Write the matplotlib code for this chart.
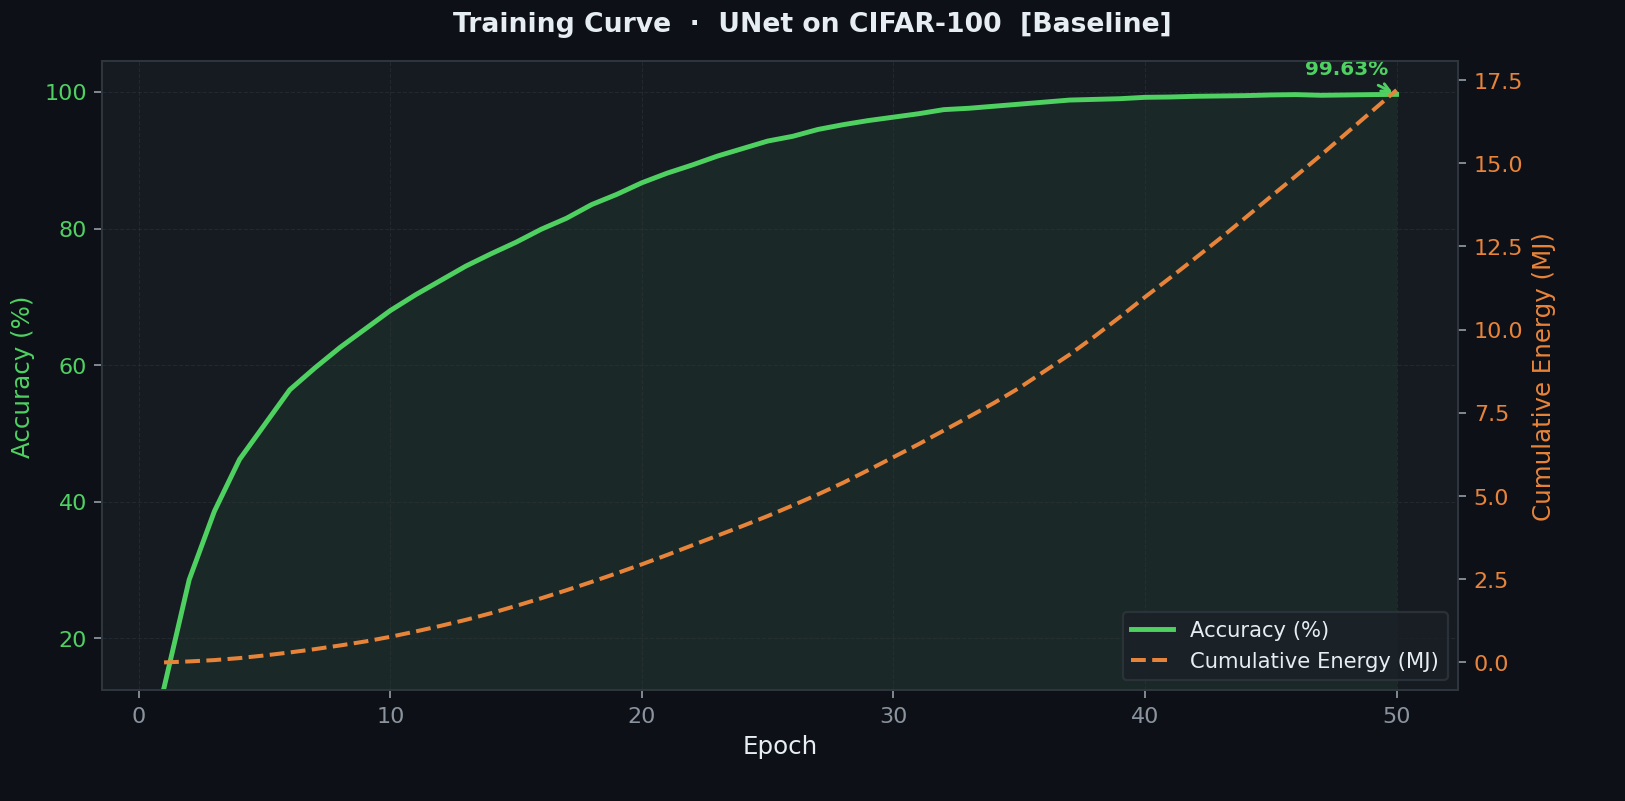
import matplotlib
matplotlib.use("Agg")
import matplotlib.pyplot as plt

epochs = list(range(1, 51))
accuracy = [12.8, 28.6, 38.6, 46.2, 51.3, 56.4, 59.6, 62.6, 65.3, 68.0,
            70.3, 72.4, 74.5, 76.3, 78.0, 79.9, 81.5, 83.5, 85.0, 86.7,
            88.1, 89.3, 90.6, 91.7, 92.8, 93.5, 94.5, 95.2, 95.8, 96.3,
            96.8, 97.4, 97.6, 97.9, 98.2, 98.5, 98.8, 98.9, 99.0, 99.2,
            99.25, 99.35, 99.4, 99.45, 99.55, 99.6, 99.5, 99.55, 99.6, 99.63]
energy = [0.00, 0.03, 0.07, 0.13, 0.21, 0.30, 0.40, 0.51, 0.63, 0.77,
          0.93, 1.10, 1.28, 1.48, 1.70, 1.93, 2.17, 2.42, 2.68, 2.95,
          3.23, 3.52, 3.81, 4.10, 4.40, 4.72, 5.05, 5.40, 5.78, 6.17,
          6.56, 6.97, 7.38, 7.80, 8.25, 8.75, 9.25, 9.80, 10.38, 10.98,
          11.56, 12.15, 12.75, 13.37, 14.00, 14.62, 15.25, 15.90, 16.55, 17.20]

BG = "#0d1117"
PANEL = "#161b22"
GREEN = "#4fd162"
ORANGE = "#e8843a"
MUTED = "#8b949e"

fig = plt.figure(figsize=(10.16, 5.01), dpi=160, facecolor=BG)
ax = fig.add_axes([0.063, 0.138, 0.834, 0.785])
ax.set_facecolor(PANEL)
ax2 = ax.twinx()

ax.plot(epochs, accuracy, color=GREEN, linewidth=2.2, label="Accuracy (%)", zorder=3)
ax.fill_between(epochs, accuracy, 0, color=GREEN, alpha=0.08, linewidth=0)
ax2.plot(epochs, energy, color=ORANGE, linewidth=1.8, linestyle="--",
         label="Cumulative Energy (MJ)")

ax.set_ylim(12.4, 104.5)
ax2.set_ylim(-0.84, 18.07)
ax.set_yticks([20, 40, 60, 80, 100])

ax.grid(True, color="#30363d", linestyle="--", linewidth=0.5, alpha=0.5)
for a in (ax, ax2):
    for s in a.spines.values():
        s.set_color("#30363d")
ax.tick_params(axis="x", colors=MUTED, labelsize=10)
ax.tick_params(axis="y", colors=MUTED, labelcolor=GREEN, labelsize=10)
ax2.tick_params(axis="y", colors=MUTED, labelcolor=ORANGE, labelsize=10)

ax.set_xlabel("Epoch", color="#e6edf3", fontsize=11)
ax.set_ylabel("Accuracy (%)", color=GREEN, fontsize=11)
ax2.set_ylabel("Cumulative Energy (MJ)", color=ORANGE, fontsize=11)
fig.suptitle("Training Curve  ·  UNet on CIFAR-100  [Baseline]", color="#e6edf3",
             fontsize=12, fontweight="bold", y=0.985)

ax.annotate(f"{accuracy[-1]:.2f}%", xy=(epochs[-1], accuracy[-1]),
            xytext=(48.0, 103.3), ha="center", va="center",
            color=GREEN, fontsize=9, fontweight="bold",
            arrowprops=dict(arrowstyle="->", color=GREEN, lw=1.3))

h1, l1 = ax.get_legend_handles_labels()
h2, l2 = ax2.get_legend_handles_labels()
leg = ax2.legend(h1 + h2, l1 + l2, loc="lower right", fontsize=9.5,
                 facecolor="#1b1f27", edgecolor="#30363d", labelcolor="#e6edf3")

fig.savefig("out.png", dpi=160, facecolor=BG)
